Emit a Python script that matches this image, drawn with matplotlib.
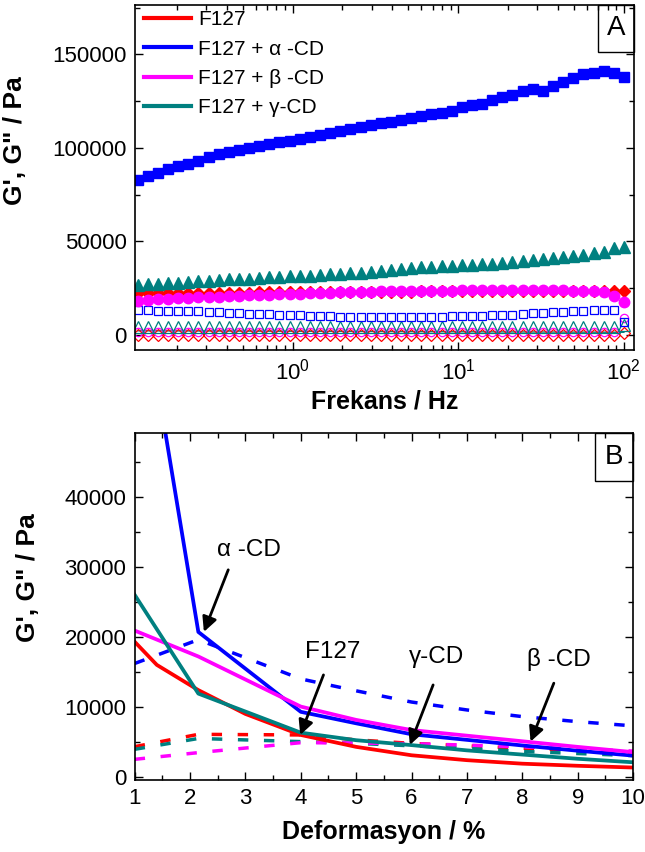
import matplotlib
matplotlib.use('Agg')
import matplotlib.pyplot as plt
from matplotlib.lines import Line2D
from matplotlib.patches import Rectangle
from matplotlib.ticker import MultipleLocator, LogLocator, NullFormatter, FixedLocator

plt.rcParams['font.family'] = ['Liberation Sans', 'DejaVu Sans']
plt.rcParams['mathtext.fontset'] = 'custom'
plt.rcParams['mathtext.rm'] = 'Liberation Sans'

RED = '#FF0000'
BLUE = '#0000FF'
PINK = '#FF00FF'
TEAL = '#008080'

# ---------------- panel A : frequency sweep ----------------
freq = [0.1161, 0.1337, 0.1539, 0.1772, 0.2040, 0.2348, 0.2703, 0.3112, 0.3582, 0.4124,
        0.4747, 0.5465, 0.6291, 0.7243, 0.8339, 0.9598, 1.105, 1.272, 1.464, 1.686,
        1.941, 2.234, 2.572, 2.961, 3.409, 3.925, 4.518, 5.200, 5.987, 6.892,
        7.934, 9.134, 10.51, 12.10, 13.94, 16.04, 18.47, 21.26, 24.48, 28.18,
        32.43, 37.34, 42.98, 49.48, 56.96, 65.58, 75.49, 86.91, 100.0]

# G' (filled symbols)
gp_f127 = [22000, 22100, 22100, 22200, 22200, 22300, 22300, 22400, 22400, 22500,
           22500, 22500, 22600, 22600, 22600, 22700, 22700, 22700, 22800, 22800,
           22800, 22900, 22900, 22900, 23000, 23000, 23000, 23000, 23100, 23100,
           23100, 23100, 23200, 23200, 23200, 23200, 23300, 23300, 23300, 23300,
           23300, 23400, 23400, 23400, 23400, 23400, 23500, 23500, 23400]
gp_alpha = [82770, 84910, 86680, 88500, 90430, 91340, 93100, 94930, 96530, 97930,
            99000, 99910, 100980, 102050, 102960, 103660, 104730, 105800, 106870, 107940,
            109010, 110080, 111160, 112070, 113140, 113840, 114910, 115980, 117050, 117960,
            118820, 119730, 121710, 122780, 123640, 125620, 127390, 128300, 130440, 131510,
            130280, 133120, 135260, 137250, 139390, 140250, 141320, 140250, 138100]
gp_beta = [18100, 18500, 18900, 19200, 19500, 19700, 19900, 20100, 20300, 20500,
           20700, 20900, 21100, 21300, 21500, 21700, 21900, 22100, 22300, 22500,
           22600, 22800, 22900, 23000, 23100, 23200, 23300, 23300, 23400, 23400,
           23500, 23500, 23600, 23600, 23700, 23700, 23700, 23800, 23800, 23800,
           23700, 23700, 23600, 23500, 23400, 23200, 23000, 20500, 17500]
gp_gamma = [26500, 26900, 27200, 27500, 27800, 28100, 28500, 28800, 29200, 29500,
            29800, 30000, 30300, 30600, 30800, 31100, 31300, 31600, 31900, 32200,
            32500, 32800, 33200, 33600, 34000, 34400, 34900, 35400, 36000, 36300,
            36600, 36800, 37000, 37200, 37600, 38000, 38500, 38900, 39400, 39900,
            40400, 41000, 41500, 42100, 42800, 43500, 44400, 46200, 47000]

# G'' (open symbols)
gpp_f127 = [-400, -400, -450, -400, -450, -400, -400, -450, -400, -400,
            -450, -400, -400, -450, -400, -400, -450, -400, -400, -450,
            -400, -400, -450, -400, -400, -450, -400, -400, -450, -400,
            -400, -450, -400, -400, -450, -400, -400, -450, -400, -400,
            -450, -400, -400, -450, -400, -400, -450, -300, 800]
gpp_alpha = [13100, 12900, 12800, 12700, 12700, 12600, 12600, 12200, 11900, 11600,
             11400, 11200, 11000, 10800, 10600, 10400, 10200, 10000, 9900, 9700,
             9600, 9400, 9300, 9200, 9200, 9200, 9300, 9300, 9400, 9500,
             9600, 9700, 9800, 9900, 10000, 10200, 10400, 10700, 11000, 11300,
             11600, 11900, 12200, 12500, 12700, 12900, 13000, 13100, 6500]
gpp_beta = [1300, 1300, 1250, 1300, 1300, 1250, 1300, 1300, 1250, 1300,
            1300, 1250, 1300, 1300, 1250, 1300, 1300, 1250, 1300, 1300,
            1250, 1300, 1300, 1250, 1300, 1300, 1250, 1300, 1300, 1250,
            1300, 1300, 1250, 1300, 1300, 1250, 1300, 1300, 1250, 1300,
            1300, 1250, 1300, 1300, 1250, 1300, 1300, 1500, 9000]
gpp_gamma = [3900, 3800, 3850, 3800, 3900, 3800, 3850, 3800, 3900, 3800,
             3850, 3800, 3900, 3800, 3850, 3800, 3900, 3800, 3850, 3800,
             3900, 3800, 3850, 3800, 3900, 3800, 3850, 3800, 3900, 3800,
             3850, 3800, 3900, 3800, 3850, 3800, 3900, 3800, 3850, 3800,
             3900, 3800, 3850, 3800, 3900, 3800, 3850, 3900, 5100]
teal_base = [2000, 1200]  # thin teal line across panel A

# ---------------- panel B : strain sweep ----------------
strain = [1, 2.15, 4, 5, 6, 7, 8, 9, 10]
strain_f127 = [1, 1.4, 2.15, 3, 4, 5, 6, 7, 8, 9, 10]
gpB_f127 = [19300, 16000, 12400, 9000, 6000, 4300, 3100, 2400, 1900, 1600, 1350]
gpB_alpha = [75600, 20700, 9300, 7660, 6100, 5300, 4500, 3750, 3050]
gpB_beta = [20900, 17200, 10050, 8150, 6700, 5900, 5100, 4300, 3550]
gpB_gamma = [26000, 11900, 6330, 5250, 4550, 3800, 3200, 2600, 2100]
gppB_f127 = [4330, 6090, 6000, 5300, 4800, 4450, 4100, 3800, 3500]
gppB_alpha = [16200, 19600, 14000, 12300, 10700, 9570, 8620, 7900, 7300]
gppB_beta = [2520, 3480, 4900, 4850, 4750, 4550, 4300, 4000, 3700]
gppB_gamma = [3950, 5500, 5050, 4800, 4450, 4100, 3650, 3350, 3050]

legend_labels = ['F127', 'F127 + \u03b1 -CD', 'F127 + \u03b2 -CD', 'F127 + \u03b3-CD']

fig = plt.figure(figsize=(6.45, 8.52), dpi=100)
axA = fig.add_axes([0.2093, 0.5892, 0.7736, 0.4049])
axB = fig.add_axes([0.2088, 0.0845, 0.7726, 0.4073])

# panel A
axA.plot([freq[0], freq[-1]], teal_base, color=TEAL, lw=1)
axA.plot(freq, gpp_f127, ls='none', marker='D', ms=6, mfc='none', mec=RED, mew=0.9)
axA.plot(freq, gpp_beta, ls='none', marker='o', ms=6, mfc='none', mec=PINK, mew=0.9)
axA.plot(freq, gpp_gamma, ls='none', marker='^', ms=8, mfc='none', mec=TEAL, mew=0.9)
axA.plot(freq, gpp_alpha, ls='none', marker='s', ms=6, mfc='none', mec=BLUE, mew=0.9)
axA.plot(freq, gp_f127, ls='none', marker='D', ms=6.5, color=RED)
axA.plot(freq, gp_beta, ls='none', marker='o', ms=7.5, color=PINK)
axA.plot(freq, gp_gamma, ls='none', marker='^', ms=8.5, color=TEAL)
axA.plot(freq, gp_alpha, ls='none', marker='s', ms=6.5, color=BLUE)

axA.set_xscale('log')
axA.set_xlim(0.112, 115)
axA.set_ylim(-8300, 176500)
axA.xaxis.set_major_locator(LogLocator(base=10))
axA.xaxis.set_minor_locator(LogLocator(base=10, subs=[2, 3, 4, 5, 6, 7, 8, 9]))
axA.xaxis.set_minor_formatter(NullFormatter())
axA.yaxis.set_major_locator(FixedLocator([0, 50000, 100000, 150000]))
axA.yaxis.set_minor_locator(MultipleLocator(25000))
axA.set_xlabel('Frekans / Hz', fontsize=18, fontweight='bold', labelpad=4)
axA.set_ylabel('G\', G" / Pa', fontsize=19, fontweight='bold')
axA.yaxis.set_label_coords(-0.216, 0.606)

handles = [Line2D([], [], color=c, lw=3) for c in (RED, BLUE, PINK, TEAL)]
axA.legend(handles, legend_labels, loc='upper left', bbox_to_anchor=(0.018, 0.985),
           frameon=False, fontsize=15, handlelength=2.25, handletextpad=0.35,
           labelspacing=0.5, borderpad=0, borderaxespad=0)

# panel B
axB.plot(strain, gppB_f127, color=RED, lw=2.5, dashes=(3, 4.5))
axB.plot(strain, gppB_gamma, color=TEAL, lw=2.5, dashes=(3, 4.5))
axB.plot(strain, gppB_beta, color=PINK, lw=2.5, dashes=(3, 4.5))
axB.plot(strain, gppB_alpha, color=BLUE, lw=2.5, dashes=(3, 4.5))
axB.plot(strain_f127, gpB_f127, color=RED, lw=2.7)
axB.plot(strain, gpB_alpha, color=BLUE, lw=2.7)
axB.plot(strain, gpB_beta, color=PINK, lw=2.7)
axB.plot(strain, gpB_gamma, color=TEAL, lw=2.7)

axB.set_xlim(1, 10)
axB.set_ylim(-430, 49100)
axB.xaxis.set_major_locator(MultipleLocator(1))
axB.xaxis.set_minor_locator(MultipleLocator(0.5))
axB.yaxis.set_major_locator(FixedLocator([0, 10000, 20000, 30000, 40000]))
axB.yaxis.set_minor_locator(MultipleLocator(5000))
axB.set_xlabel('Deformasyon / %', fontsize=18, fontweight='bold', labelpad=8)
axB.set_ylabel('G\', G" / Pa', fontsize=19, fontweight='bold')
axB.yaxis.set_label_coords(-0.19, 0.582)

arrow = dict(arrowstyle='-|>', color='black', lw=2, mutation_scale=22, shrinkA=0, shrinkB=0)
notes = [('\u03b1 -CD', (3.07, 32430), (2.69, 29570), (2.25, 20710)),
         ('F127', (4.57, 17800), (4.41, 14570), (3.99, 6000)),
         ('\u03b3-CD', (6.45, 17100), (6.39, 13140), (5.97, 4570)),
         ('\u03b2 -CD', (8.67, 16710), (8.57, 13390), (8.15, 5050))]
for txt, tpos, tail, head in notes:
    axB.text(tpos[0], tpos[1], txt, fontsize=17.5, ha='center', va='center')
    axB.annotate('', xy=head, xytext=tail, arrowprops=arrow)

for ax, lab, x0, y0 in ((axA, 'A', 0.928, 0.864), (axB, 'B', 0.924, 0.862)):
    ax.add_patch(Rectangle((x0, y0), 1 - x0, 1 - y0, transform=ax.transAxes,
                           fill=False, ec='black', lw=1, clip_on=False))
    ax.text((x0 + 1) / 2, (y0 + 1) / 2, lab, transform=ax.transAxes, fontsize=20,
            ha='center', va='center')
    ax.tick_params(which='both', direction='in', top=True, right=True, labelsize=16, width=1)
    ax.tick_params(which='major', length=6, pad=6)
    ax.tick_params(which='minor', length=3.5)
    for sp in ax.spines.values():
        sp.set_linewidth(1.2)

fig.savefig('out.png', dpi=100)
